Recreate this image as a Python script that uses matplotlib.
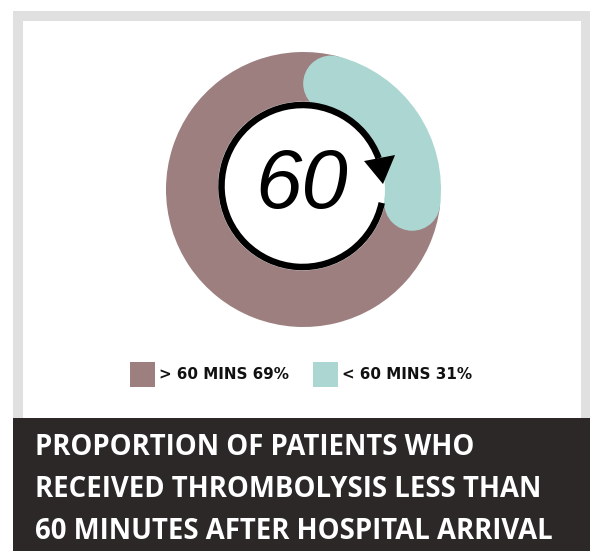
import numpy as np
import matplotlib
matplotlib.use("Agg")
import matplotlib.pyplot as plt
from matplotlib.patches import Wedge, Circle, Rectangle, Arc, Polygon

# Data
categories = ["> 60 MINS", "< 60 MINS"]
shares = [69, 31]                      # percent of patients
legend_labels = [f"{c} {v}%" for c, v in zip(categories, shares)]
center_number = "60"
title_lines = [
    "PROPORTION OF PATIENTS WHO",
    "RECEIVED THROMBOLYSIS LESS THAN",
    "60 MINUTES AFTER HOSPITAL ARRIVAL",
]

# Style
MAUVE = "#9d7f80"
TEAL = "#acd6d1"
BANNER = "#2b2827"
FRAME = "#e0e0e0"

W, H = 594, 551
fig = plt.figure(figsize=(W / 100, H / 100), dpi=100)
ax = fig.add_axes([0, 0, 1, 1])
ax.set_xlim(0, W)
ax.set_ylim(H, 0)
ax.axis("off")

# Card frame, white panel and dark caption banner
ax.add_patch(Rectangle((12.7, 10.5), 590 - 12.7, H - 10.5, color=FRAME, lw=0))
ax.add_patch(Rectangle((22.7, 20.5), 581 - 22.7, 418 - 20.5, color="white", lw=0))
ax.add_patch(Rectangle((12.7, 418), 590 - 12.7, H - 418, color=BANNER, lw=0))

# Donut geometry (pixel units, y grows downward)
cx, cy = 303.5, 189.5
r_out = 137.5
band = 56.0
r_mid = r_out - band / 2
cap_deg = np.degrees((band / 2) / r_mid)


def theta(cw_from_top):
    """Clockwise angle from 12 o'clock -> axes angle (y axis inverted)."""
    return cw_from_top - 90.0


total = sum(shares)
teal_span = shares[1] / total * 360.0
mauve_span = shares[0] / total * 360.0

# "> 60 mins" slice sits underneath, running on past the rounded ends
m_start = teal_span - cap_deg
m_end = teal_span + mauve_span + cap_deg
ax.add_patch(Wedge((cx, cy), r_out, theta(m_start), theta(m_end), color=MAUVE, lw=0))

# White centre disc
ix, iy = 302.5, 186.0
ax.add_patch(Circle((ix, iy), 84.5, color="white", lw=0))

# "< 60 mins" slice as a thick band with rounded ends
t_start = 0.0 + cap_deg
t_end = teal_span - cap_deg
ax.add_patch(Wedge((cx, cy), r_out, theta(t_start), theta(t_end), width=band,
                   color=TEAL, lw=0))
for a in (t_start, t_end):
    rad = np.radians(theta(a))
    ax.add_patch(Circle((cx + r_mid * np.cos(rad), cy + r_mid * np.sin(rad)),
                        band / 2, color=TEAL, lw=0))

# Clock arrow around the number
ring_r = 81.0
ax.add_patch(Arc((ix, iy), 2 * ring_r, 2 * ring_r, theta1=theta(102), theta2=theta(430),
                 lw=6.5 * 0.72, color="black", capstyle="butt"))


def polar(phi, r):
    rad = np.radians(theta(phi))
    return (ix + r * np.cos(rad), iy + r * np.sin(rad))


ax.add_patch(Polygon([polar(67.9, 66.4), polar(71.5, 97.6), polar(88.6, 80.5)],
                     closed=True, color="black", lw=0))

ax.text(302, 208, center_number, fontsize=60, family="Liberation Sans",
        style="italic", ha="center", va="baseline", color="black")

# Legend
legend_x = [130, 313]
for x0, lab, col in zip(legend_x, legend_labels, [MAUVE, TEAL]):
    ax.add_patch(Rectangle((x0, 362), 25, 25, color=col, lw=0))
    ax.text(x0 + 29, 379, lab, fontsize=10.9, family="DejaVu Sans",
            weight="bold", ha="left", va="baseline", color="#111111")

# Caption, sized so the widest line spans the banner text column
caption = []
for i, line in enumerate(title_lines):
    caption.append(ax.text(35, 455 + i * 42, line, fontsize=19, family="Open Sans",
                           weight="bold", color="white", ha="left", va="baseline"))
renderer = fig.canvas.get_renderer()
widest = max(t.get_window_extent(renderer).width for t in caption)
target = 517.0
for t in caption:
    t.set_fontsize(19 * target / widest)

fig.savefig("out.png", dpi=100)
